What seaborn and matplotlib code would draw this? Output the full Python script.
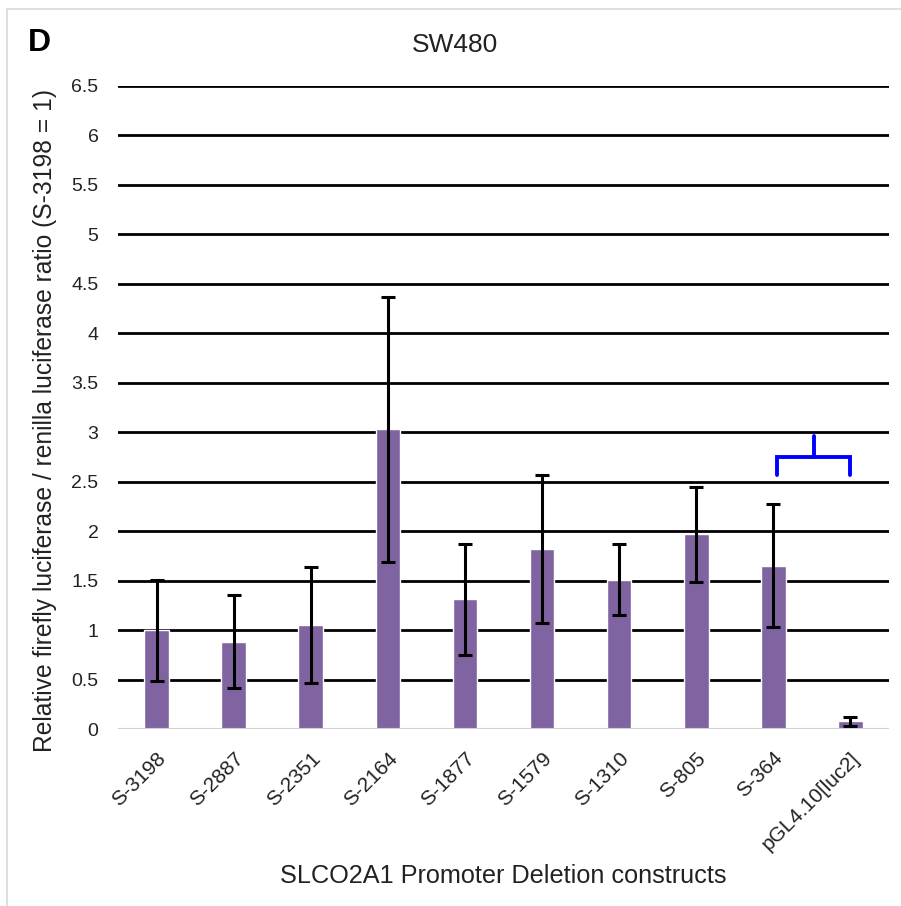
import matplotlib
matplotlib.use("Agg")
import matplotlib.pyplot as plt
from matplotlib.lines import Line2D
import seaborn as sns
import pandas as pd

# Promoter deletion constructs and their normalised luciferase activity
constructs = ["S-3198", "S-2887", "S-2351", "S-2164", "S-1877",
              "S-1579", "S-1310", "S-805", "S-364", "pGL4.10[luc2]"]
ratio = [1.00, 0.88, 1.05, 3.03, 1.31, 1.82, 1.51, 1.97, 1.65, 0.08]
err = [0.51, 0.47, 0.59, 1.34, 0.56, 0.75, 0.36, 0.48, 0.62, 0.045]
yticks = [0, 0.5, 1, 1.5, 2, 2.5, 3, 3.5, 4, 4.5, 5, 5.5, 6, 6.5]

df = pd.DataFrame({"construct": constructs, "ratio": ratio, "err": err})

sns.set_theme(style="white")
plt.rcParams["font.family"] = ["Liberation Sans", "DejaVu Sans"]

W, H = 901, 906
fig = plt.figure(figsize=(W / 100, H / 100), dpi=100)
ax = fig.add_axes([118 / W, 1 - 729 / H, (889 - 118) / W, (729 - 86) / H])

sns.barplot(data=df, x="construct", y="ratio", color="#8064A2",
            saturation=1, width=0.32, errorbar=None, ax=ax, zorder=3)
ax.errorbar(range(len(constructs)), df["ratio"], yerr=df["err"], fmt="none",
            ecolor="black", elinewidth=2.2, capsize=5, capthick=2.2, zorder=4)

ax.set_xlim(-0.5, len(constructs) - 0.5)
ax.set_ylim(0, 6.5)
ax.set_yticks(yticks)
ax.set_yticklabels([f"{t:g}" for t in yticks], fontsize=14, color="#222222")
ax.tick_params(axis="y", length=0, pad=14)
ax.tick_params(axis="x", length=0, pad=14)
ax.set_xticks(range(len(constructs)))
ax.set_xticklabels(constructs, rotation=45, ha="right",
                   rotation_mode="anchor", fontsize=15, color="#222222")

# horizontal gridlines (skip zero, which is the light baseline)
for t in yticks[1:]:
    ax.axhline(t, color="black", lw=2.0, zorder=1)
ax.axhline(0, color="#d0d0d0", lw=1.5, zorder=5)
for s in ax.spines.values():
    s.set_visible(False)

ax.set_xlabel("")
ax.set_ylabel("")

# significance bracket between S-364 and the empty vector
bx0, bx1 = 8.05, 9.0
ax.plot([bx0, bx0, bx1, bx1], [2.57, 2.75, 2.75, 2.57], color="#0000FF",
        lw=2.8, solid_joinstyle="miter", zorder=6, clip_on=False)
ax.plot([(bx0 + bx1) / 2] * 2, [2.75, 2.96], color="#0000FF", lw=2.8,
        zorder=6, clip_on=False)

fig.text(455 / W, 1 - 45 / H, "SW480", ha="center", va="center",
         fontsize=19, color="#222222")
fig.text(28 / W, 1 - 43 / H, "D", ha="left", va="center",
         fontsize=23, fontweight="bold", color="black")
fig.text(45 / W, 1 - 421 / H,
         "Relative firefly luciferase / renilla luciferase ratio (S-3198 = 1)",
         rotation=90, ha="center", va="center", fontsize=17.7, color="#222222")
fig.text(503 / W, 1 - 876 / H, "SLCO2A1 Promoter Deletion constructs",
         ha="center", va="center", fontsize=18.2, color="#222222")

# thin frame around the panel
fig.add_artist(Line2D([7 / W, 1.0], [1 - 9 / H, 1 - 9 / H],
                      transform=fig.transFigure, color="#d9d9d9", lw=1.2))
fig.add_artist(Line2D([7 / W, 7 / W], [0, 1 - 9 / H],
                      transform=fig.transFigure, color="#d9d9d9", lw=1.2))

fig.savefig("out.png", dpi=100, facecolor="white")
